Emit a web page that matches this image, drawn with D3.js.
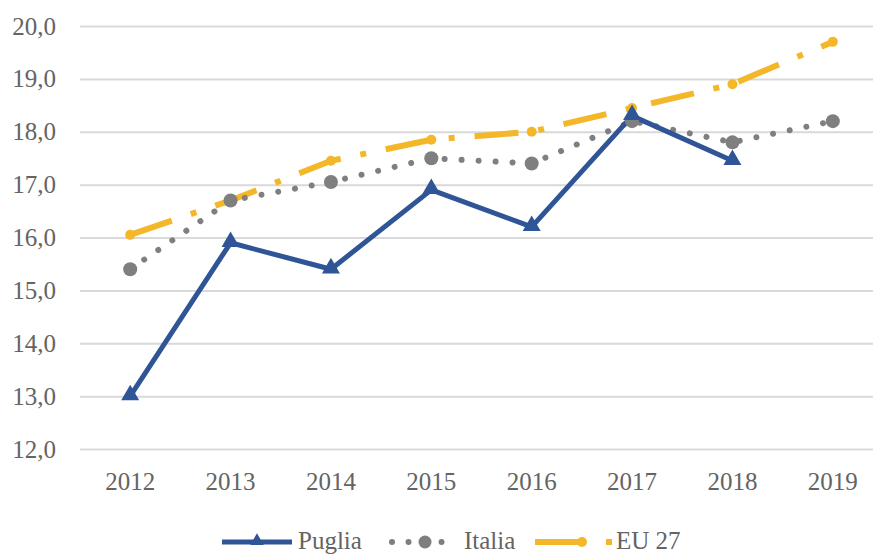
<!DOCTYPE html>
<html>
<head>
<meta charset="utf-8">
<script src="https://cdn.jsdelivr.net/npm/d3@7/dist/d3.min.js"></script>
<style>
  body { margin: 0; background: #fff; }
  svg text { font-family: "Liberation Serif", "DejaVu Serif", serif; fill: #646464; }
</style>
</head>
<body>
<svg class="line" width="873" height="558"></svg>
<script>
var years = ['2012','2013','2014','2015','2016','2017','2018','2019'];
var yTicks = [12,13,14,15,16,17,18,19,20];
var puglia = [13.0, 15.9, 15.4, 16.9, 16.2, 18.3, 17.45, null];
var italia = [15.4, 16.7, 17.05, 17.5, 17.4, 18.2, 17.8, 18.2];
var eu27 = [16.05, 16.7, 17.45, 17.85, 18.0, 18.45, 18.9, 19.7];

var blue = '#2f5597', grey = '#7f7f7f', gold = '#f4b72a';

var svg = d3.select('svg.line'),
  margin = {top: 26, left: 80},
  plotRight = 883,
  plotBottom = 449;

var x = d3.scaleBand().domain(years).range([margin.left, plotRight]);
var y = d3.scaleLinear().domain([12, 20]).range([plotBottom, margin.top]);
var cx = function(i) { return x(years[i]) + x.bandwidth() / 2; };

// gridlines + y labels
var yAxis = svg.append('g')
  .attr('transform', 'translate(' + margin.left + ',0)')
  .call(d3.axisLeft(y)
    .tickValues(yTicks)
    .tickSize(-(plotRight - margin.left))
    .tickPadding(24)
    .tickFormat(function(d) { return d3.format('.1f')(d).replace('.', ','); })
  );
yAxis.select('.domain').remove();
yAxis.selectAll('line').attr('stroke', '#d9d9d9').attr('stroke-width', 2);
yAxis.selectAll('text').attr('font-size', 25).attr('font-family', null);

// x labels
var xAxis = svg.append('g')
  .attr('transform', 'translate(0,' + plotBottom + ')')
  .call(d3.axisBottom(x).tickSize(0).tickPadding(23));
xAxis.select('.domain').remove();
xAxis.selectAll('text').attr('font-size', 25).attr('font-family', null);

var mkLine = d3.line()
  .defined(function(d) { return d !== null; })
  .x(function(d, i) { return cx(i); })
  .y(function(d) { return y(d); });

// EU 27 (long dash dot)
svg.append('path')
  .datum(eu27)
  .attr('d', mkLine)
  .style('fill', 'none')
  .attr('stroke', gold)
  .style('stroke-width', '6px')
  .attr('stroke-dasharray', '44 20 6 20');

// Italia (round dots)
svg.append('path')
  .datum(italia)
  .attr('d', mkLine)
  .style('fill', 'none')
  .attr('stroke', grey)
  .style('stroke-width', '6px')
  .attr('stroke-linecap', 'round')
  .attr('stroke-dasharray', '0.01 17');

// Puglia (solid)
svg.append('path')
  .datum(puglia)
  .attr('d', mkLine)
  .style('fill', 'none')
  .attr('stroke', blue)
  .style('stroke-width', '5px')
  .attr('stroke-linejoin', 'round');

svg.selectAll('circle.eu')
  .data(eu27)
  .enter().append('circle')
  .attr('class', 'eu')
  .attr('r', 5)
  .attr('cx', function(d, i) { return cx(i); })
  .attr('cy', function(d) { return y(d); })
  .attr('fill', gold);

svg.selectAll('circle.it')
  .data(italia)
  .enter().append('circle')
  .attr('class', 'it')
  .attr('r', 7)
  .attr('cx', function(d, i) { return cx(i); })
  .attr('cy', function(d) { return y(d); })
  .attr('fill', grey);

var tri = d3.symbol().type(d3.symbolTriangle).size(140);
svg.selectAll('path.pu')
  .data(puglia.filter(function(d) { return d !== null; }))
  .enter().append('path')
  .attr('class', 'pu')
  .attr('d', tri)
  .attr('transform', function(d, i) { return 'translate(' + cx(i) + ',' + (y(d) - 1) + ')'; })
  .attr('fill', blue);

// legend
var ly = 542, lt = 549;
var leg = svg.append('g');
leg.append('line').attr('x1', 222).attr('x2', 292).attr('y1', ly).attr('y2', ly)
  .attr('stroke', blue).attr('stroke-width', 5);
leg.append('path').attr('d', d3.symbol().type(d3.symbolTriangle).size(80))
  .attr('transform', 'translate(257,' + (ly - 1) + ')').attr('fill', blue);
leg.append('text').attr('x', 298).attr('y', lt).attr('font-size', 25).text('Puglia');

leg.append('line').attr('x1', 392).attr('x2', 446).attr('y1', ly).attr('y2', ly)
  .attr('stroke', grey).attr('stroke-width', 6)
  .attr('stroke-linecap', 'round').attr('stroke-dasharray', '0.01 16.5');
leg.append('circle').attr('cx', 425).attr('cy', ly).attr('r', 6.5).attr('fill', grey);
leg.append('text').attr('x', 464).attr('y', lt).attr('font-size', 25).text('Italia');

leg.append('line').attr('x1', 535).attr('x2', 612).attr('y1', ly).attr('y2', ly)
  .attr('stroke', gold).attr('stroke-width', 6).attr('stroke-dasharray', '44 27 6 20');
leg.append('circle').attr('cx', 582).attr('cy', ly).attr('r', 5).attr('fill', gold);
leg.append('text').attr('x', 616).attr('y', lt).attr('font-size', 25).text('EU 27');
</script>
</body>
</html>
